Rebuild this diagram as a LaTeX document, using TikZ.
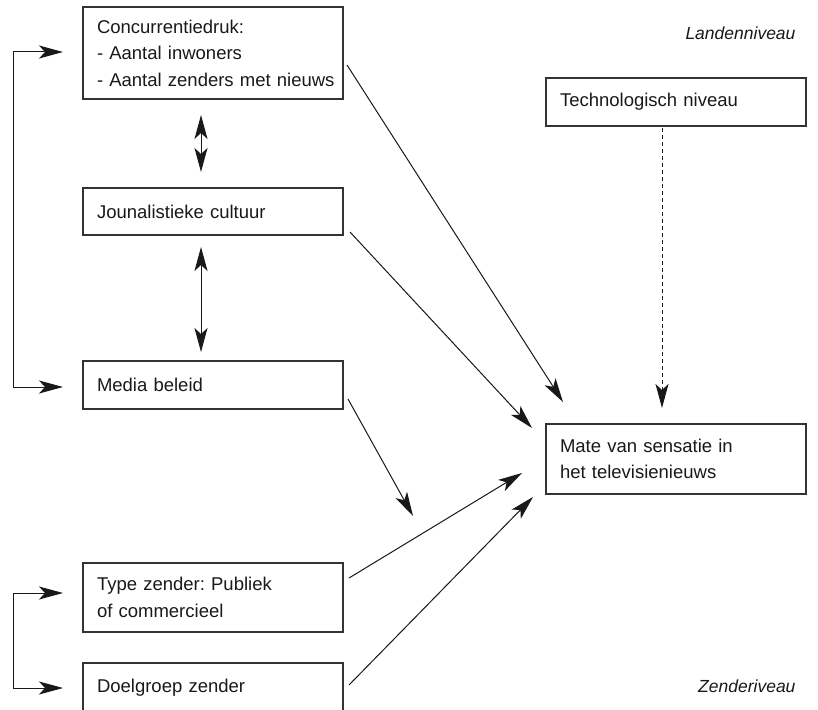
\documentclass[tikz,border=0pt]{standalone}
\usepackage{fontspec}
\setmainfont{Liberation Sans}
\usetikzlibrary{arrows.meta}
\frenchspacing
\begin{document}
\begin{tikzpicture}[x=1pt,y=-1pt,
  box/.style={draw=black!80, line width=1.2pt, anchor=north west, inner xsep=14pt, inner ysep=0pt, text width=232pt, align=left, font=\fontsize{18.5}{26.5}\selectfont, text=black!90, outer sep=0pt},
  tip/.tip={Stealth[length=24pt,width=13pt,inset=6pt]},
  arr/.style={line width=1pt, draw=black!90, -tip},
  dbl/.style={line width=1pt, draw=black!90, tip-tip},
  dsh/.style={line width=1pt, draw=black!90, -tip, dash pattern=on 4pt off 3pt},
  lvl/.style={font=\fontsize{17.5}{20}\selectfont\itshape, anchor=east, text=black!90}]
\useasboundingbox (0,0) rectangle (818,709);
\clip (0,0) rectangle (818,709);
\fill[white] (0,0) rectangle (818,709);

\node[box, minimum height=92pt] (c1) at (83,7) {Concurrentiedruk:\\- Aantal inwoners\\\mbox{- Aantal zenders met nieuws}\hss};
\node[box, minimum height=47pt] (jc) at (83,188) {Jounalistieke cultuur};
\node[box, minimum height=48pt] (mb) at (83,361) {Media beleid};
\node[box, minimum height=69pt] (tz) at (83,563) {Type zender: Publiek\\of commercieel};
\node[box, minimum height=50pt] (dz) at (83,663) {Doelgroep zender};
\node[box, minimum height=48pt] (tn) at (546,78) {Technologisch niveau};
\node[box, minimum height=70pt] (ms) at (546,424) {Mate van sensatie in\\het televisienieuws};

\node[lvl] (ln) at (799,33) {Landenniveau};
\node[lvl] (zn) at (799,686) {Zenderiveau};

\coordinate (c1out) at (347,65);  \coordinate (c1tip) at (563,402);
\coordinate (jcout) at (350,232); \coordinate (jctip) at (532,428);
\coordinate (mbout) at (348,399); \coordinate (mbtip) at (413,516);
\coordinate (tzout) at (349,578); \coordinate (tztip) at (522,473);
\coordinate (dzout) at (349,685); \coordinate (dztip) at (533,497);
\coordinate (tnout) at (662,128); \coordinate (tntip) at (662,408);
\coordinate (d1a) at (201,115); \coordinate (d1b) at (201,172);
\coordinate (d2a) at (201,247); \coordinate (d2b) at (201,352);
\coordinate (c1in) at (63,52); \coordinate (mbin) at (63,387);
\coordinate (tzin) at (63,593); \coordinate (dzin) at (63,688);

\draw[arr] (c1out) -- (c1tip);
\draw[arr] (jcout) -- (jctip);
\draw[arr] (mbout) -- (mbtip);
\draw[arr] (tzout) -- (tztip);
\draw[arr] (dzout) -- (dztip);
\draw[dsh] (tnout) -- (tntip);
\draw[dbl] (d1a) -- (d1b);
\draw[dbl] (d2a) -- (d2b);
\draw[dbl] (c1in) -- ++(-50,0) |- (mbin);
\draw[dbl] (tzin) -- ++(-50,0) |- (dzin);
\end{tikzpicture}
\end{document}
